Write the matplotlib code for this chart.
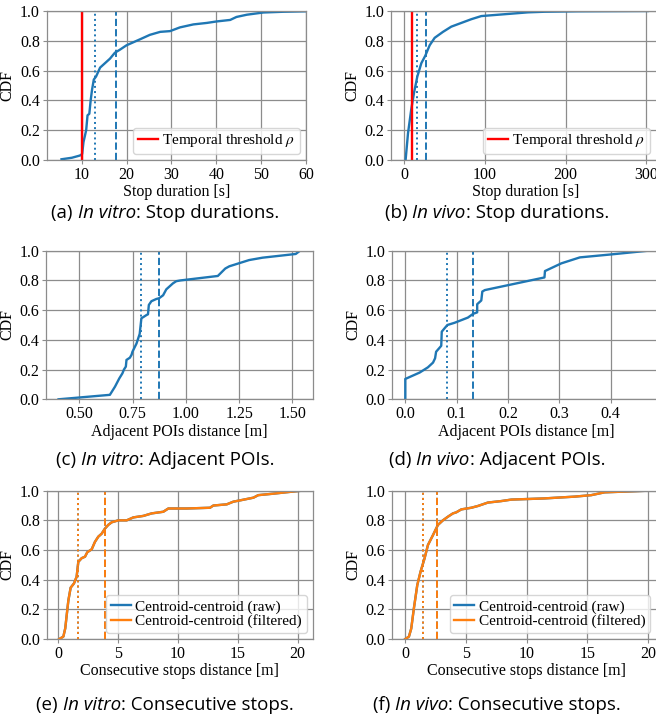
import numpy as np
import matplotlib
matplotlib.use("Agg")
import matplotlib.pyplot as plt

plt.rcParams['font.family'] = ['Liberation Serif', 'DejaVu Serif']
plt.rcParams['mathtext.fontset'] = 'stix'

BLUE = '#1f77b4'
ORANGE = '#ff7f0e'
GRID = '#8c8c8c'

# (a) in vitro stop durations [s]
a_x = [5.5, 7.8, 9.6, 10.1, 10.4, 11.0, 11.3, 11.7, 12.0, 12.3, 12.7, 13.2, 14.1, 15.2,
       16.3, 17.4, 18.5, 20.0, 21.5, 23.0, 25.2, 27.5, 29.7, 31.9, 34.9, 37.9, 40.1, 43.1,
       44.5, 46.8, 50.5, 55.0, 60.0, 85.0]
a_y = [0.005, 0.015, 0.03, 0.04, 0.12, 0.20, 0.30, 0.31, 0.40, 0.47, 0.54, 0.56, 0.62, 0.65,
       0.68, 0.72, 0.74, 0.77, 0.79, 0.81, 0.84, 0.86, 0.865, 0.89, 0.91, 0.92, 0.93, 0.94,
       0.96, 0.975, 0.99, 0.995, 0.998, 1.0]
a_median, a_mean = 13.0, 17.7

# (b) in vivo stop durations [s]
b_x = [2, 5, 9, 12.4, 16.5, 21.5, 26.4, 31.8, 38, 48.3, 58.6, 71, 83.4, 95.8, 112, 133,
       153.5, 174, 215, 302]
b_y = [0.0, 0.18, 0.34, 0.45, 0.56, 0.65, 0.70, 0.77, 0.82, 0.86, 0.895, 0.92, 0.945, 0.966,
       0.973, 0.982, 0.991, 0.995, 0.998, 1.0]
b_median, b_mean = 15.7, 27.0

rho = 10

# (c) in vitro adjacent POIs distance [m]
c_x = [0.402, 0.643, 0.667, 0.687, 0.702, 0.709, 0.718, 0.721, 0.737, 0.745, 0.749, 0.768,
       0.783, 0.791, 0.815, 0.822, 0.826, 0.838, 0.861, 0.874, 0.893, 0.908, 0.939, 0.955,
       0.975, 1.150, 1.185, 1.204, 1.297, 1.36, 1.516, 1.536]
c_y = [0.0, 0.03, 0.085, 0.14, 0.175, 0.20, 0.22, 0.265, 0.28, 0.30, 0.32, 0.375,
       0.44, 0.545, 0.567, 0.572, 0.635, 0.66, 0.675, 0.68, 0.70, 0.74, 0.78, 0.795,
       0.80, 0.83, 0.88, 0.895, 0.937, 0.953, 0.978, 1.0]
c_median, c_mean = 0.791, 0.874

# (d) in vivo adjacent POIs distance [m]
d_x = [0.0, 0.0, 0.028, 0.044, 0.054, 0.058, 0.060, 0.065, 0.070, 0.071, 0.077, 0.082,
       0.096, 0.122, 0.132, 0.140, 0.140, 0.148, 0.150, 0.155, 0.271, 0.272, 0.304, 0.34,
       0.401, 0.473]
d_y = [0.0, 0.137, 0.18, 0.215, 0.247, 0.276, 0.32, 0.34, 0.36, 0.455, 0.48, 0.50,
       0.515, 0.55, 0.575, 0.585, 0.64, 0.665, 0.725, 0.735, 0.82, 0.863, 0.915, 0.955,
       0.975, 1.0]
d_median, d_mean = 0.0805, 0.131

# (e) in vitro consecutive stops distance [m]
e_x = [0.08, 0.42, 0.58, 0.70, 0.84, 1.03, 1.31, 1.53, 1.67, 1.95, 2.23, 2.42, 2.79, 3.06,
       3.34, 3.62, 3.90, 4.18, 4.46, 5.01, 5.71, 6.27, 7.1, 7.8, 8.77, 9.19, 10.72, 12.67,
       12.95, 14.07, 14.62, 15.32, 16.3, 16.7, 17.97, 19.1, 20.33]
e_y = [0.0, 0.016, 0.072, 0.16, 0.26, 0.346, 0.375, 0.42, 0.52, 0.545, 0.555, 0.585, 0.605,
       0.655, 0.69, 0.71, 0.745, 0.77, 0.787, 0.80, 0.80, 0.82, 0.83, 0.847, 0.858, 0.88,
       0.88, 0.885, 0.90, 0.908, 0.926, 0.937, 0.953, 0.97, 0.98, 0.99, 1.0]
e_median, e_mean = 1.64, 3.93

# (f) in vivo consecutive stops distance [m]
f_x = [0.0, 0.30, 0.49, 0.71, 0.99, 1.26, 1.59, 1.87, 2.28, 2.69, 3.10, 3.52, 3.93, 4.2,
       4.62, 5.44, 5.99, 6.81, 7.91, 8.74, 11.48, 13.96, 15.33, 16.43, 20.0]
f_y = [0.0, 0.016, 0.07, 0.207, 0.364, 0.454, 0.544, 0.634, 0.70, 0.769, 0.80, 0.825, 0.847,
       0.854, 0.874, 0.885, 0.897, 0.92, 0.93, 0.94, 0.948, 0.96, 0.97, 0.989, 1.0]
f_median, f_mean = 1.48, 2.61

captions = [('(a) ', 'In vitro', ': Stop durations.'),
            ('(b) ', 'In vivo', ': Stop durations.'),
            ('(c) ', 'In vitro', ': Adjacent POIs.'),
            ('(d) ', 'In vivo', ': Adjacent POIs.'),
            ('(e) ', 'In vitro', ': Consecutive stops.'),
            ('(f) ', 'In vivo', ': Consecutive stops.')]

W, H = 656, 721
fig = plt.figure(figsize=(W / 100, H / 100), dpi=100)


def make_axes(left, right, top, bottom):
    ax = fig.add_axes([left / W, 1 - bottom / H, (right - left) / W, (bottom - top) / H])
    ax.grid(True, color=GRID, linewidth=0.9)
    ax.set_axisbelow(True)
    for s in ax.spines.values():
        s.set_color(GRID)
        s.set_linewidth(0.9)
    ax.tick_params(labelsize=11.5, length=3, color=GRID, pad=2)
    ax.set_ylim(0, 1)
    ax.set_yticks([0, 0.2, 0.4, 0.6, 0.8, 1.0])
    ax.set_ylabel('CDF', fontsize=11.5, labelpad=3)
    return ax


def caption(cx, cy, parts):
    r = fig.canvas.get_renderer()
    styles = ['normal', 'italic', 'normal']
    texts = []
    for p, st in zip(parts, styles):
        t = fig.text(0, 1 - cy / H, p, fontsize=13.5, family='Open Sans', style=st,
                     va='center', ha='left')
        texts.append(t)
    widths = [t.get_window_extent(r).width for t in texts]
    x = cx - sum(widths) / 2
    for t, w in zip(texts, widths):
        t.set_x(x / W)
        x += w


leg_kw = dict(loc='lower right', fontsize=11, handlelength=1.3, handletextpad=0.3,
              borderpad=0.3, borderaxespad=0.4, labelspacing=0.05)

# row 1
ax = make_axes(46.7, 306, 11, 160)
ax.plot(a_x, a_y, color=BLUE, lw=1.7)
ax.axvline(rho, color='red', lw=1.7, label=r'Temporal threshold $\rho$')
ax.axvline(a_median, color=BLUE, lw=1.4, ls=':')
ax.axvline(a_mean, color=BLUE, lw=1.4, ls='--')
ax.set_xlim(2.2, 60)
ax.set_xticks([10, 20, 30, 40, 50, 60])
ax.set_xlabel('Stop duration [s]', fontsize=11.5, labelpad=1)
ax.legend(**leg_kw)

ax = make_axes(391.3, 660, 11, 160)
ax.plot(b_x, b_y, color=BLUE, lw=1.7)
ax.axvline(rho, color='red', lw=1.7, label=r'Temporal threshold $\rho$')
ax.axvline(b_median, color=BLUE, lw=1.4, ls=':')
ax.axvline(b_mean, color=BLUE, lw=1.4, ls='--')
ax.set_xlim(-15.7, 317)
ax.set_xticks([0, 100, 200, 300])
ax.set_xlabel('Stop duration [s]', fontsize=11.5, labelpad=1)
ax.legend(bbox_to_anchor=(0.985, 0), **leg_kw)

# row 2
ax = make_axes(46, 313, 250.7, 399.3)
ax.plot(c_x, c_y, color=BLUE, lw=1.7)
ax.axvline(c_median, color=BLUE, lw=1.4, ls=':')
ax.axvline(c_mean, color=BLUE, lw=1.4, ls='--')
ax.set_xlim(0.343, 1.597)
ax.set_xticks([0.5, 0.75, 1.0, 1.25, 1.5])
ax.set_xticklabels(['0.50', '0.75', '1.00', '1.25', '1.50'])
ax.set_xlabel('Adjacent POIs distance [m]', fontsize=11.5, labelpad=1)

ax = make_axes(392.3, 660, 250.7, 399.3)
ax.plot(d_x, d_y, color=BLUE, lw=1.7)
ax.axvline(d_median, color=BLUE, lw=1.4, ls=':')
ax.axvline(d_mean, color=BLUE, lw=1.4, ls='--')
ax.set_xlim(-0.0253, 0.496)
ax.set_xticks([0, 0.1, 0.2, 0.3, 0.4])
ax.set_xlabel('Adjacent POIs distance [m]', fontsize=11.5, labelpad=1)

# row 3
for (left, right, xs, ys, med, mean, xl) in [
        (46.7, 312.7, e_x, e_y, e_median, e_mean, (-0.97, 21.25)),
        (392.3, 660, f_x, f_y, f_median, f_mean, (-1.07, 21.0))]:
    ax = make_axes(left, right, 490.7, 639)
    ax.plot(xs, ys, color=BLUE, lw=1.7, label='Centroid-centroid (raw)')
    ax.plot(xs, ys, color=ORANGE, lw=1.7, label='Centroid-centroid (filtered)')
    ax.axvline(med, color=BLUE, lw=1.4, ls=':')
    ax.axvline(mean, color=BLUE, lw=1.4, ls='--')
    ax.axvline(med, color=ORANGE, lw=1.4, ls=':')
    ax.axvline(mean, color=ORANGE, lw=1.4, ls='--')
    ax.set_xlim(*xl)
    ax.set_xticks([0, 5, 10, 15, 20])
    ax.set_xlabel('Consecutive stops distance [m]', fontsize=11.5, labelpad=1)
    anchor = (1, 0) if left < 100 else (0.985, 0)
    ax.legend(bbox_to_anchor=anchor, **leg_kw)

for i, parts in enumerate(captions):
    cx = 165 if i % 2 == 0 else 497
    cy = [213, 460, 705][i // 2]
    caption(cx, cy, parts)

fig.savefig('out.png', dpi=100)
